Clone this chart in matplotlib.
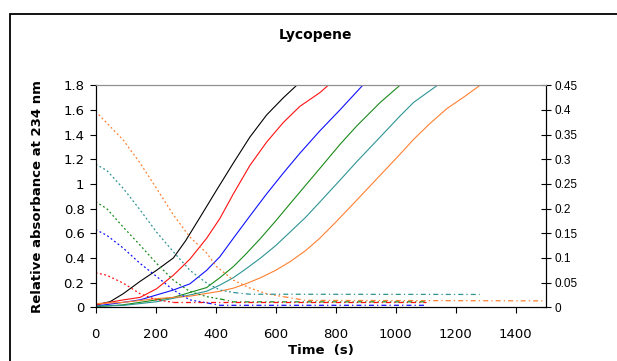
import numpy as np
import matplotlib
matplotlib.use("Agg")
import matplotlib.pyplot as plt
from matplotlib.patches import Rectangle

# ── solid lines: relative absorbance at 234 nm (left axis) ──
t_black = [0, 48, 92, 148, 203, 259, 300, 348, 403, 459, 514, 570, 626, 670]
a_black = [0.02, 0.045, 0.11, 0.21, 0.30, 0.40, 0.54, 0.73, 0.95, 1.17, 1.38, 1.56, 1.70, 1.80]

t_red = [0, 92, 148, 203, 259, 314, 370, 414, 459, 514, 570, 626, 681, 747, 775]
a_red = [0.02, 0.06, 0.08, 0.15, 0.26, 0.39, 0.56, 0.72, 0.92, 1.15, 1.34, 1.50, 1.63, 1.74, 1.80]

t_blue = [0, 92, 148, 203, 259, 314, 370, 414, 459, 514, 570, 626, 681, 747, 814, 890]
a_blue = [0.01, 0.04, 0.06, 0.10, 0.14, 0.19, 0.30, 0.41, 0.56, 0.74, 0.92, 1.09, 1.25, 1.43, 1.60, 1.80]

t_green = [0, 92, 203, 259, 314, 370, 414, 459, 500, 550, 600, 648, 700, 759, 814, 870, 948, 1014]
a_green = [0.005, 0.02, 0.06, 0.08, 0.12, 0.16, 0.24, 0.33, 0.43, 0.56, 0.70, 0.84, 0.99, 1.16, 1.32, 1.47, 1.66, 1.80]

t_teal = [0, 92, 203, 314, 370, 414, 459, 500, 550, 600, 648, 700, 742, 814, 870, 948, 1014, 1059, 1139]
a_teal = [0.01, 0.015, 0.045, 0.10, 0.13, 0.18, 0.24, 0.31, 0.40, 0.50, 0.61, 0.73, 0.84, 1.03, 1.18, 1.38, 1.55, 1.66, 1.80]

t_orange = [0, 92, 203, 314, 414, 459, 500, 550, 600, 648, 700, 747, 800, 859, 948, 1014, 1059, 1114, 1170, 1230, 1281]
a_orange = [0.03, 0.04, 0.07, 0.09, 0.13, 0.155, 0.19, 0.24, 0.30, 0.37, 0.46, 0.56, 0.69, 0.84, 1.07, 1.24, 1.36, 1.49, 1.61, 1.71, 1.80]

# ── broken lines: decay (right axis) ──
d_t_orange = [0, 92, 148, 203, 259, 314, 370, 403, 459, 514, 570, 626, 700, 1500]
d_orange = [0.397, 0.339, 0.2925, 0.241, 0.1875, 0.1425, 0.11, 0.0825, 0.055, 0.039, 0.0275, 0.0215, 0.014, 0.013]

d_t_teal = [0, 37, 92, 148, 203, 259, 314, 370, 414, 459, 514, 1280]
d_teal = [0.29, 0.2775, 0.241, 0.1975, 0.1525, 0.1125, 0.075, 0.049, 0.035, 0.03, 0.0265, 0.026]

d_t_green = [0, 37, 92, 148, 203, 259, 314, 370, 414, 459, 1100]
d_green = [0.214, 0.2, 0.1625, 0.126, 0.089, 0.055, 0.032, 0.0215, 0.017, 0.011, 0.011]

d_t_blue = [0, 37, 92, 148, 203, 259, 314, 370, 414, 1100]
d_blue = [0.1575, 0.146, 0.12, 0.089, 0.0625, 0.035, 0.015, 0.009, 0.004, 0.004]

d_t_red = [0, 37, 92, 148, 203, 259, 1100]
d_red = [0.07, 0.065, 0.049, 0.0275, 0.015, 0.01, 0.01]

C_BLACK, C_RED, C_BLUE = "black", "#ff1010", "#1010ff"
C_GREEN, C_TEAL, C_ORANGE = "#1a8a1a", "#2e9494", "#ff8030"

fig = plt.figure(figsize=(6.17, 3.61), dpi=100)
fig.patches.append(Rectangle((0.0162, -0.2), 1.2, 1.161, transform=fig.transFigure,
                             fill=False, edgecolor="black", lw=1.3))

ax = fig.add_axes([0.155, 0.1488, 0.7295, 0.6149])
ax2 = ax.twinx()

for t, a, c in [(t_black, a_black, C_BLACK), (t_red, a_red, C_RED), (t_blue, a_blue, C_BLUE),
                (t_green, a_green, C_GREEN), (t_teal, a_teal, C_TEAL), (t_orange, a_orange, C_ORANGE)]:
    ax.plot(t, a, color=c, lw=0.8)

# (times, values, colour, index where the curve levels off)
for t, d, c, k in [(d_t_orange, d_orange, C_ORANGE, 11), (d_t_teal, d_teal, C_TEAL, 9),
                   (d_t_green, d_green, C_GREEN, 8), (d_t_blue, d_blue, C_BLUE, 7),
                   (d_t_red, d_red, C_RED, 5)]:
    ax2.plot(t[:k + 1], d[:k + 1], color=c, lw=0.9, ls=(0, (1.5, 2)))
    ax2.plot(t[k:], d[k:], color=c, lw=0.9, ls=(0, (4, 2.5, 1, 2.5)))

ax.set_xlim(0, 1500)
ax.set_ylim(0, 1.8)
ax2.set_ylim(0, 0.45)
ax.set_xticks(np.arange(0, 1401, 200))
ax.set_yticks(np.arange(0, 1.81, 0.2))
ax.set_yticklabels([f"{v:g}" for v in np.round(np.arange(0, 1.81, 0.2), 1)])
ax2.set_yticks(np.arange(0, 0.451, 0.05))
ax2.set_yticklabels([f"{v:g}" for v in np.round(np.arange(0, 0.451, 0.05), 2)])

ax.tick_params(axis="y", direction="out", length=4, width=0.8, labelsize=9.5, pad=4)
ax.tick_params(axis="x", direction="out", length=4, width=0.8, labelsize=9.5, pad=11)
ax2.tick_params(axis="y", direction="inout", length=7, width=0.8, labelsize=8.5, pad=3)
for lab in ax2.get_yticklabels():
    lab.set_family("Liberation Sans")

for a_ in (ax, ax2):
    a_.spines["top"].set_color("#909090")
    for s in ("left", "right", "bottom"):
        a_.spines[s].set_color("black")
        a_.spines[s].set_linewidth(0.8)

ax.set_xlabel("Time  (s)", fontsize=9.5, fontweight="bold", labelpad=2)
ax.set_ylabel("Relative absorbance at 234 nm", fontsize=9.5, fontweight="bold", labelpad=14)
fig.text(0.512, 0.903, "Lycopene", ha="center", va="center", fontsize=10, fontweight="bold")

fig.savefig("out.png", dpi=100)
